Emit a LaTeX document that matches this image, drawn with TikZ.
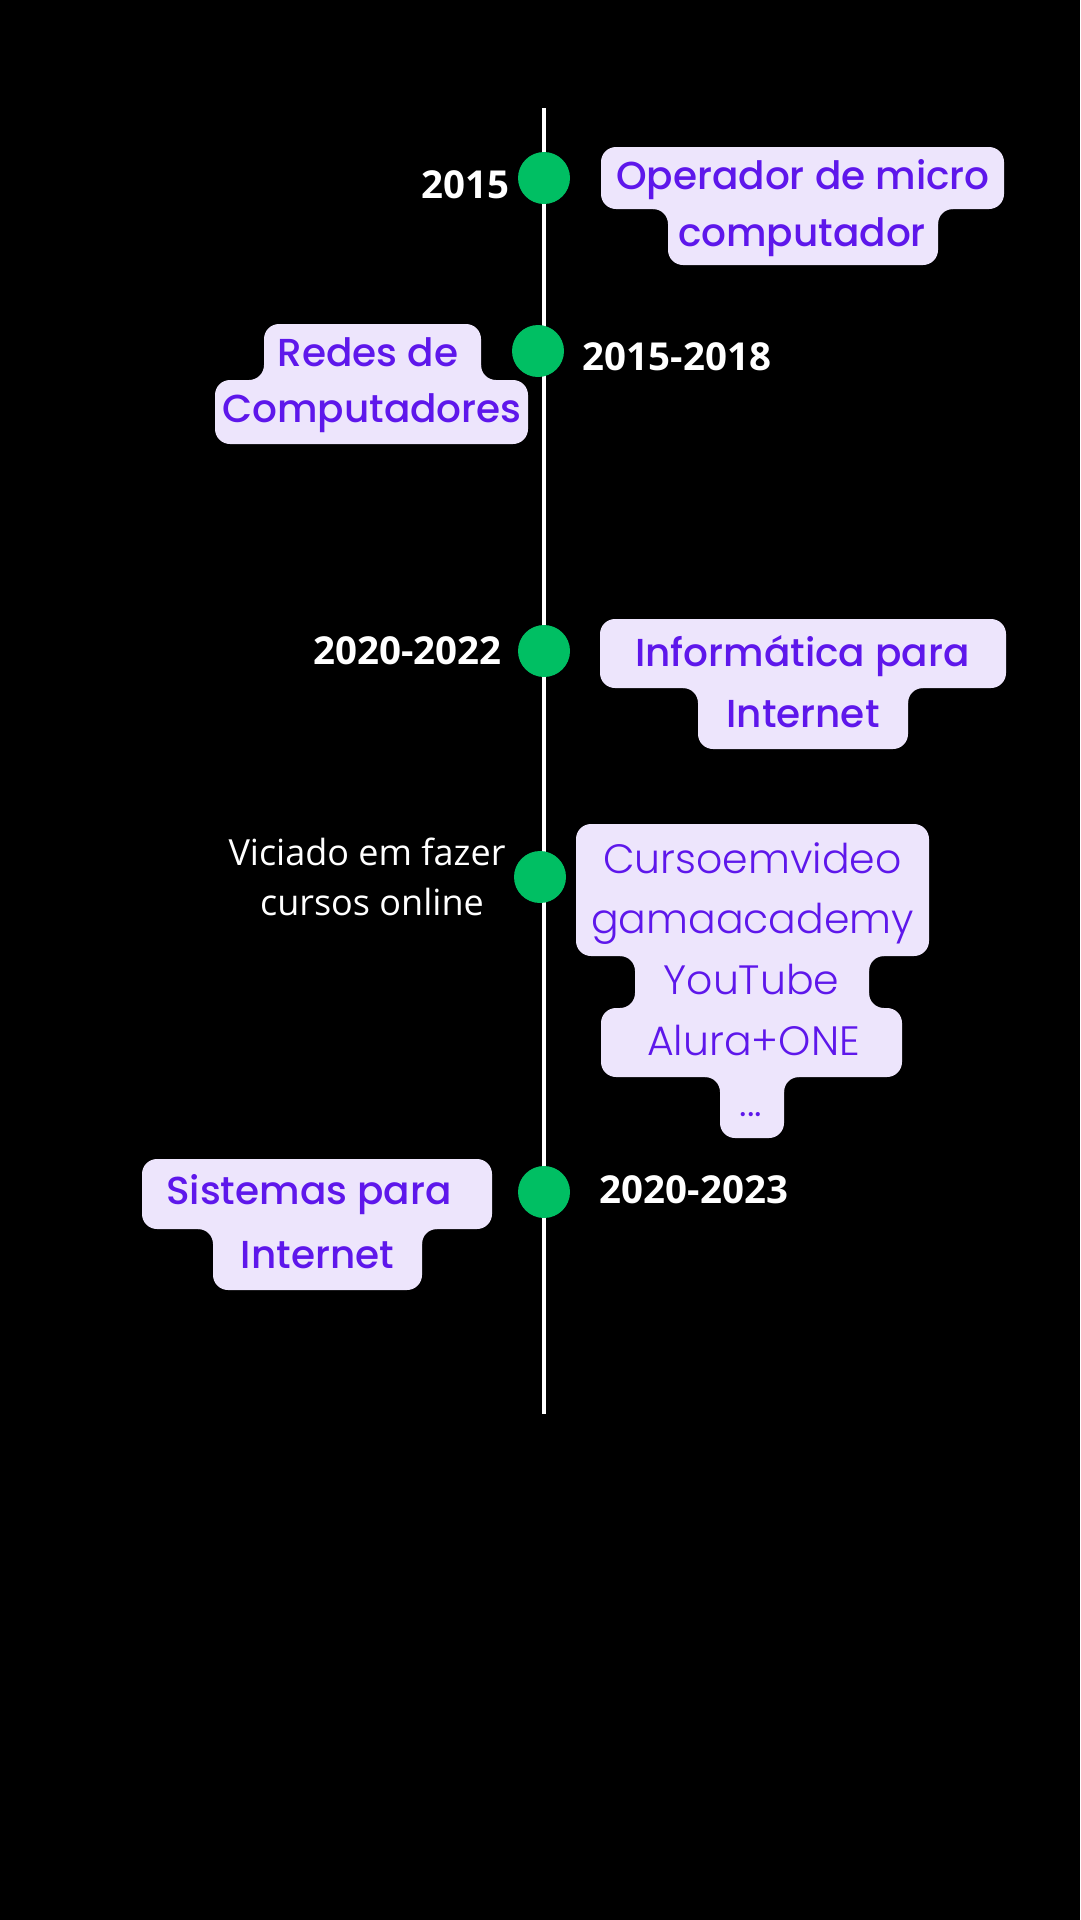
\documentclass[tikz,border=0pt]{standalone}
\usepackage{fontspec}
\setmainfont{Open Sans}
\newfontfamily\boxfont{Poppins Medium}
\newfontfamily\lightfont{Poppins Light}
\definecolor{boxbg}{HTML}{EDE5FC}
\definecolor{boxtext}{HTML}{5E17EB}
\definecolor{dotgreen}{HTML}{00BF63}
\newcommand\flt[4]{\fill[boxbg] ({#1+(#3)*15},#2) -- (#1,#2) -- (#1,{#2+(#4)*15}) .. controls (#1,{#2+(#4)*6.7}) and ({#1+(#3)*6.7},#2) .. ({#1+(#3)*15},#2) -- cycle;}
\begin{document}
\begin{tikzpicture}[x=1pt,y=-1pt,
  tdot/.style={circle, fill=dotgreen, minimum size=52pt, inner sep=0pt},
  yr/.style={anchor=base, text=white, font=\fontsize{38.5}{46}\selectfont\bfseries, inner sep=0pt},
  note/.style={anchor=base, text=white, font=\fontsize{36}{43}\selectfont, inner sep=0pt},
  lbl/.style={anchor=base, text=boxtext, font=\boxfont\fontsize{39}{47}\selectfont, inner sep=0pt},
  lightlbl/.style={anchor=base, text=boxtext, font=\lightfont\fontsize{41}{49}\selectfont, inner sep=0pt},
  boxshape/.style={fill=boxbg, rounded corners=15pt},
]
\useasboundingbox (0,0) rectangle (1080,1920);
\fill[black] (0,0) rectangle (1080,1920);
% timeline
\coordinate (top) at (544,108);
\coordinate (bot) at (544,1414);
\draw[white, line width=4pt] (top) -- (bot);
% dots
\node[tdot] (d1) at (544,178) {};
\node[tdot] (d2) at (538,351) {};
\node[tdot] (d3) at (544,651) {};
\node[tdot] (d4) at (540,877) {};
\node[tdot] (d5) at (544,1192) {};
% year labels
\node[yr] (y1) at (465,198) {2015};
\node[yr] (y2) at (677,370) {2015-2018};
\node[yr] (y3) at (407.5,664) {2020-2022};
\node[yr] (y5) at (694,1203) {2020-2023};
\node[note] (v1) at (367,865) {Viciado em fazer};
\node[note] (v2) at (372,915) {cursos online};
% box 1
\path[boxshape] (601,147) rectangle (1004,209);
\path[boxshape] (668,194) rectangle (938,265);
\flt{668}{209}{-1}{1}\flt{938}{209}{1}{1}
\node[lbl] (b1a) at (803,189) {Operador de micro};
\node[lbl] (b1b) at (802,246) {computador};
% box 2
\path[boxshape] (264,324) rectangle (481,395);
\path[boxshape] (215,380) rectangle (528,444);
\flt{264}{380}{-1}{-1}\flt{481}{380}{1}{-1}
\node[lbl] (b2a) at (368,366) {Redes de};
\node[lbl] (b2b) at (372,422) {Computadores};
% box 3
\path[boxshape] (600,619) rectangle (1006,688);
\path[boxshape] (698,673) rectangle (908,749);
\flt{698}{688}{-1}{1}\flt{908}{688}{1}{1}
\node[lbl] (b3a) at (802.5,666) {Informática para};
\node[lbl] (b3b) at (803,727) {Internet};
% box 4
\path[boxshape] (576,824) rectangle (929,956);
\path[boxshape] (635,941) rectangle (869,1023);
\path[boxshape] (601,1008) rectangle (902,1077);
\path[boxshape] (720,1062) rectangle (784,1138);
\flt{635}{956}{-1}{1}\flt{869}{956}{1}{1}
\flt{635}{1008}{-1}{-1}\flt{869}{1008}{1}{-1}
\flt{720}{1077}{-1}{1}\flt{784}{1077}{1}{1}
\node[lightlbl] (b4a) at (752.5,873) {Cursoemvideo};
\node[lightlbl] (b4b) at (752.5,933) {gamaacademy};
\node[lightlbl] (b4c) at (751.5,994) {YouTube};
\node[lightlbl] (b4d) at (753.5,1055) {Alura+ONE};
\node[lightlbl] (b4e) at (751,1116) {...};
% box 5
\path[boxshape] (142,1159) rectangle (492,1229);
\path[boxshape] (213,1214) rectangle (422,1290);
\flt{213}{1229}{-1}{1}\flt{422}{1229}{1}{1}
\node[lbl] (b5a) at (309,1204) {Sistemas para};
\node[lbl] (b5b) at (317.5,1268) {Internet};
\end{tikzpicture}
\end{document}
